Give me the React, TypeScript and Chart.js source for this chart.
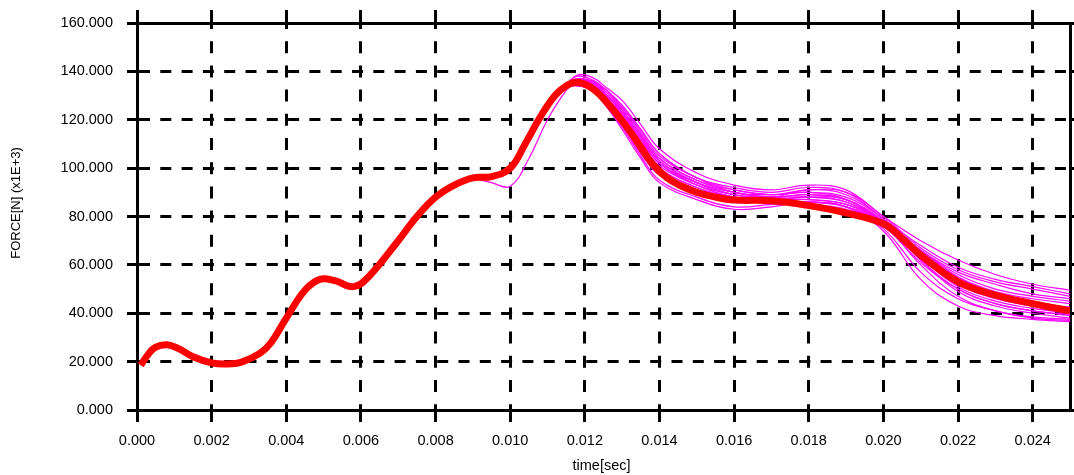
import React, { useEffect, useRef } from "react";
import { Chart, registerables } from "chart.js";

Chart.register(...registerables);

// ---- Data ----
const X_TICK_STEP = 0.002;
const X_MAX = 0.025;
const Y_TICK_STEP = 20;
const Y_MAX = 160;
const Y_TITLE = "FORCE[N] (x1E+3)";
const X_TITLE = "time[sec]";

// main (thick red) curve
const redX = [
  0.0001, 0.0003, 0.0005, 0.0008, 0.0011, 0.0015, 0.002, 0.0024, 0.0028, 0.0033,
  0.0036, 0.004, 0.0045, 0.0049, 0.0053, 0.0058, 0.0062, 0.007, 0.0075, 0.008,
  0.0085, 0.009, 0.0095, 0.01, 0.0104, 0.0108, 0.0112, 0.0115, 0.0118, 0.0122,
  0.0126, 0.013, 0.0134, 0.0138, 0.0142, 0.0146, 0.015, 0.0155, 0.016, 0.017,
  0.018, 0.019, 0.02, 0.0205, 0.021, 0.022, 0.023, 0.024, 0.025,
];
const redY = [
  18.5, 23, 26, 27, 25.5, 22, 19.5, 19, 19.8, 23.5,
  28, 38, 49.5, 54, 53.5, 51, 55, 70, 80, 88,
  93, 96, 96.5, 100, 110, 121, 130, 134, 135.5, 133,
  127, 119.5, 111, 102, 96, 92.5, 90, 88, 86.8, 86.5,
  84.5, 81.5, 77, 71, 64, 53, 47.5, 44, 41,
];

// thin magenta curves (they coincide with the red one before 0.009)
const magX = [
  0.009, 0.0095, 0.01, 0.0105, 0.011, 0.0115, 0.0118, 0.0122, 0.0126, 0.013,
  0.0135, 0.014, 0.015, 0.016, 0.017, 0.018, 0.019, 0.02, 0.021, 0.022,
  0.023, 0.024, 0.025,
];
const mag1 = [96, 96.5, 100, 112, 125, 134, 138.5, 137.5, 133, 128, 118, 108, 98, 93, 91, 93, 91, 80, 70, 62, 56, 52, 49.5];
const mag2 = [96, 96.5, 100, 112, 125, 134.5, 138, 136.5, 132, 126, 116, 106, 96, 92, 90, 92, 90, 79, 68, 59, 54, 51, 48];
const mag3 = [96, 96.5, 100, 112, 125, 134, 136.5, 136, 131, 124, 114, 104, 95, 91, 89, 90, 88, 79, 66, 57, 52, 48, 46];
const mag4 = [96, 96.5, 100, 112, 125, 134, 136, 135, 130, 123, 112, 102, 94, 90, 88, 89, 87, 78, 66, 56, 50, 47, 45];
const mag5 = [96, 96.5, 100, 112, 125, 134, 136, 135, 129, 121, 110, 101, 93, 89, 88, 88, 86, 78, 65, 55, 49, 46, 44];
const mag6 = [96, 94, 92.5, 104, 120, 132, 136, 135, 130, 123, 113, 103, 94, 89, 88, 91, 89, 79, 66, 55, 48, 44, 42];
const mag7 = [96, 96.5, 100, 112, 125, 134, 135.5, 134, 128, 120, 109, 100, 92, 88, 87, 87, 85, 77, 63, 51, 45, 42, 40];
const mag8 = [96, 96.5, 100, 112, 125, 134, 135, 133, 126, 118, 106, 97, 90, 86, 86, 85, 83, 76, 61, 50, 44, 41, 39];
const mag9 = [96, 96.5, 100, 112, 125, 133, 134, 132, 125, 117, 105, 95, 88, 84, 85, 86, 84, 75, 57, 46, 41, 38, 37];
const mag10 = [96, 96.5, 100, 112, 125, 133, 134, 132, 125, 116, 104, 94, 87, 83, 84, 86, 84, 74, 54, 43, 39, 37.5, 36.5];
const mag11 = [96, 96.5, 100, 112, 125, 134, 136, 134.5, 129, 122, 111, 102, 93, 88, 87, 88, 86, 77, 62, 49, 43, 40, 38];
const mag12 = [96, 96.5, 100, 112, 125, 134, 137, 136, 132, 125, 115, 105, 96, 91, 89, 90, 87, 77, 60, 47, 41, 38.5, 37.5];
const mag13 = [96, 96.5, 100, 112, 125, 134, 135.5, 134, 128, 121, 110, 100, 92, 87, 86, 86, 84, 77, 64, 53, 47, 43, 41];
const mag14 = [96, 96.5, 100, 112, 125, 134, 136, 135, 130, 123, 113, 103, 94, 89, 87, 87, 85, 78, 65, 54, 48, 45, 42];
const mag15 = [96, 96.5, 100, 112, 125, 134, 136, 134, 129, 122, 112, 102, 93, 88, 87, 88, 87, 78, 63, 52, 46, 43, 41];
const mag16 = [96, 96.5, 100, 112, 125, 134, 137, 135.5, 131, 125, 116, 106, 96, 90, 88, 89, 87, 78, 64, 53, 47, 44, 42.5];
const mag17 = [96, 96.5, 100, 112, 125, 133.5, 135, 133.5, 127, 119, 108, 99, 91, 87, 86, 86, 84, 77, 62, 50, 44, 41, 39.5];
const mag18 = [96, 96.5, 100, 112, 125, 134, 136.5, 135.5, 130, 124, 114, 104, 95, 90, 89, 91, 90, 80, 67, 58, 53, 50, 47];
const magSeries = [
  mag1, mag2, mag3, mag4, mag5, mag6, mag7, mag8, mag9,
  mag10, mag11, mag12, mag13, mag14, mag15, mag16, mag17, mag18,
];

const FONT = "'Liberation Sans', Arial, sans-serif";

const pairs = (xs: number[], ys: number[]) => xs.map((x, i) => ({ x, y: ys[i] }));

export default function App() {
  const ref = useRef<HTMLCanvasElement | null>(null);

  useEffect(() => {
    document.body.style.margin = "0";
    const canvas = ref.current;
    if (!canvas) return;

    const titlePlugin = {
      id: "axisTitles",
      afterDraw(chart: any) {
        const ctx = chart.ctx;
        const area = chart.chartArea;
        ctx.save();
        ctx.fillStyle = "#000";
        ctx.textAlign = "center";
        ctx.textBaseline = "middle";
        ctx.font = `14.5px ${FONT}`;
        ctx.fillText(X_TITLE, (area.left + area.right) / 2 - 2, 466);
        ctx.translate(16, 203);
        ctx.rotate(-Math.PI / 2);
        ctx.font = `13px ${FONT}`;
        ctx.fillText(Y_TITLE, 0, 0);
        ctx.restore();
      },
    };

    const datasets: any[] = [
      {
        label: "main",
        data: pairs(redX, redY),
        borderColor: "#ff0000",
        borderWidth: 7,
        pointRadius: 0,
        tension: 0.4,
        order: 0,
      },
      ...magSeries.map((ys, i) => ({
        label: "run" + (i + 1),
        data: pairs(magX, ys),
        borderColor: "#ff00ff",
        borderWidth: 1.2,
        pointRadius: 0,
        tension: 0.4,
        order: 1,
      })),
    ];

    const chart = new Chart(canvas, {
      type: "line",
      data: { datasets },
      plugins: [titlePlugin],
      options: {
        animation: false,
        responsive: false,
        devicePixelRatio: 1,
        layout: { padding: 0 },
        plugins: { legend: { display: false }, tooltip: { enabled: false } },
        scales: {
          x: {
            type: "linear",
            position: "bottom",
            min: 0,
            max: X_MAX,
            afterFit: (s: any) => { s.height = 65; },
            ticks: {
              stepSize: X_TICK_STEP,
              includeBounds: false,
              autoSkip: false,
              maxRotation: 0,
              color: "#000",
              padding: 10,
              font: { family: FONT, size: 14.5 },
              callback: (v: any) => Number(v).toFixed(3),
            },
            grid: { color: "#000", lineWidth: 3, tickLength: 12, tickWidth: 3 },
            border: { display: true, color: "#000", width: 3, dash: [12, 12.2], dashOffset: 6 },
          },
          x2: {
            type: "linear",
            position: "top",
            min: 0,
            max: X_MAX,
            afterFit: (s: any) => { s.height = 23; },
            ticks: { stepSize: X_TICK_STEP, includeBounds: false, display: false },
            grid: { drawOnChartArea: false, color: "#000", lineWidth: 3, tickLength: 13 },
            border: { display: true, color: "#000", width: 3 },
          },
          y: {
            type: "linear",
            position: "left",
            min: 0,
            max: Y_MAX,
            afterFit: (s: any) => { s.width = 137; },
            ticks: {
              stepSize: Y_TICK_STEP,
              color: "#000",
              padding: 14,
              font: { family: FONT, size: 14.5 },
              callback: (v: any) => Number(v).toFixed(3),
            },
            grid: { color: "#000", lineWidth: 3, tickLength: 10, tickWidth: 3 },
            border: { display: true, color: "#000", width: 3, dash: [11, 10.3], dashOffset: 0 },
          },
          y2: {
            type: "linear",
            position: "right",
            min: 0,
            max: Y_MAX,
            afterFit: (s: any) => { s.width = 4; },
            ticks: { stepSize: Y_TICK_STEP, display: false },
            grid: { drawOnChartArea: false, color: "#000", lineWidth: 3, tickLength: 4 },
            border: { display: true, color: "#000", width: 3 },
          },
        },
      } as any,
    });

    return () => chart.destroy();
  }, []);

  return (
    <div style={{ width: 1074, height: 475 }}>
      <canvas ref={ref} width={1074} height={475} style={{ display: "block" }} />
    </div>
  );
}
